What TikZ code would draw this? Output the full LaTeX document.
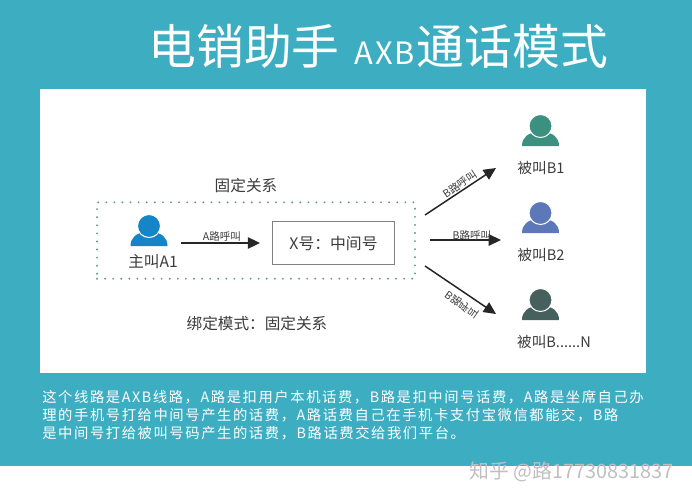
\documentclass[tikz,border=0pt]{standalone}
\usepackage{fontspec}
\setmainfont{Noto Sans CJK SC}
\newfontfamily\notefont[LetterSpace=11]{Noto Sans CJK SC}
\newfontfamily\axbfont[LetterSpace=6]{Noto Sans CJK SC}
\usetikzlibrary{arrows.meta,positioning}
\definecolor{panelteal}{HTML}{3DAEC2}
\definecolor{iconblue}{HTML}{1585C8}
\definecolor{icongreen}{HTML}{3C9080}
\definecolor{iconviolet}{HTML}{5C78B8}
\definecolor{icondark}{HTML}{46605E}
\definecolor{inkgray}{HTML}{3C3C3C}
\definecolor{dotgreen}{HTML}{5F9C92}
\tikzset{
    px/.style={x=0.02cm,y=-0.02cm},
    headline/.style={text=white,font=\fontsize{27.2}{30}\selectfont},
    axbword/.style={text=white,font=\axbfont\fontsize{17.5}{20}\selectfont},
    plainlabel/.style={text=inkgray,font=\fontsize{8.9}{10}\selectfont},
    calledlabel/.style={text=inkgray,font=\fontsize{8.3}{10}\selectfont},
    calllabel/.style={text=inkgray,font=\fontsize{6}{7}\selectfont},
    noteline/.style={text=white,anchor=west,inner sep=0pt,font=\notefont\fontsize{8.15}{10}\selectfont},
    callarrow/.style={draw=black!85,line width=0.85pt,-{Triangle[length=7pt,width=6.5pt]}},
    iconspot/.style={inner sep=0pt,minimum width=20.5pt,minimum height=18.5pt},
    person/.pic={
        \fill[#1] (-18.5,15) .. controls (-18.5,6) and (-12,2) .. (-4,1)
            -- (4,1) .. controls (12,2) and (18.5,6) .. (18.5,15) -- cycle;
        \fill[#1,draw=white,line width=0.6pt] (0,-5) circle (11.5);
    }
}
\begin{document}
\begin{tikzpicture}[px]
    \useasboundingbox (0,0) rectangle (692,500);
    % Backgrounds
    \fill[panelteal] (0,0) rectangle (692,466);
    \fill[white] (40,89) rectangle (646,373);

    % Title
    \node[headline] (titleleft) at (244,46) {电销助手};
    \node[axbword] (titleaxb) at (385,53) {AXB};
    \node[headline] (titleright) at (512.5,46) {通话模式};

    % Dotted zone
    \node[draw=dotgreen,line width=1.2pt,line cap=round,dash pattern=on 0pt off 4.6pt,
        inner sep=0pt,minimum width=181pt,minimum height=43.5pt] (zone) at (256,240.5) {};
    \node[plainlabel] (fixedlabel) at (246,186) {固定关系};
    \node[plainlabel] (bindlabel) at (257,324) {绑定模式：固定关系};

    % Caller and middle number
    \node[iconspot] (callerA) at (149,231) {};
    \pic at (callerA) {person=iconblue};
    \node[plainlabel] (callerAname) at (153,262) {主叫A1};
    \node[draw=gray,line width=0.6pt,inner sep=0pt,minimum width=69pt,minimum height=25pt,
        text=inkgray,font=\fontsize{9}{10}\selectfont] (xbox) at (333.5,243) {X号：中间号};
    \draw[callarrow,yshift=-1.1pt,shorten <=8pt,shorten >=7pt] (callerA.east |- xbox.west) -- (xbox.west);
    \node[calllabel] (acall) at (222,236) {A路呼叫};

    % Called parties
    \node[iconspot] (calledone) at (540.5,131) {};
    \pic at (calledone) {person=icongreen};
    \node[calledlabel] (calledonename) at (541,168) {被叫B1};
    \node[iconspot] (calledtwo) at (540.5,218) {};
    \pic at (calledtwo) {person=iconviolet};
    \node[calledlabel] (calledtwoname) at (541,255) {被叫B2};
    \node[iconspot] (calledn) at (540.5,305) {};
    \pic at (calledn) {person=icondark};
    \node[calledlabel] (callednname) at (554,342) {被叫B......N};

    % Arrows out of the zone
    \coordinate (tailone) at (425,215);
    \coordinate (headone) at (496,168);
    \coordinate (tailtwo) at (430,240);
    \coordinate (headtwo) at (501,240);
    \coordinate (tailn) at (425,266);
    \coordinate (headn) at (496,314);
    \draw[callarrow] (tailone) -- (headone);
    \draw[callarrow] (tailtwo) -- (headtwo);
    \draw[callarrow] (tailn) -- (headn);
    \node[calllabel,rotate=34] (bcallone) at (460,184) {B路呼叫};
    \node[calllabel] (bcalltwo) at (472,235) {B路呼叫};
    \node[calllabel,rotate=-35] (bcalln) at (462,305) {\scalebox{1}[-1]{B路呼叫}};

    % Note
    \node[noteline] (noteone) at (42,397) {这个线路是AXB线路，A路是扣用户本机话费，B路是扣中间号话费，A路是坐席自己办};
    \node[noteline] (notetwo) at (42,415) {理的手机号打给中间号产生的话费，A路话费自己在手机卡支付宝微信都能交，B路};
    \node[noteline] (notethree) at (42,433) {是中间号打给被叫号码产生的话费，B路话费交给我们平台。};

    % Watermark
    \node[text=black!25,anchor=east,inner sep=0pt,font=\fontsize{11.3}{12}\selectfont] (mark) at (674,472) {知乎 @路17730831837};
\end{tikzpicture}
\end{document}
